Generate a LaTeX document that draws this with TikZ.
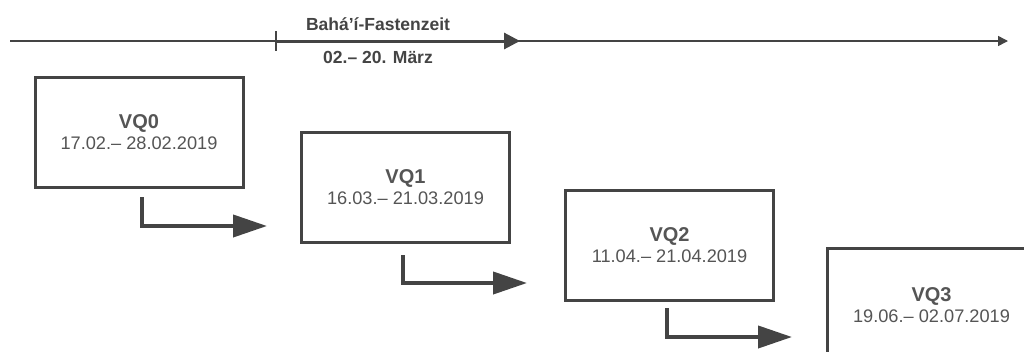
\documentclass[tikz,border=0pt]{standalone}
\usepackage{fontspec}
\setmainfont{Liberation Sans}
\usetikzlibrary{arrows.meta}
\definecolor{ink}{HTML}{444444}
\definecolor{txt}{HTML}{555555}
\tikzset{
  x=1pt, y=-1pt,
  vqbox/.style={draw=ink, line width=3pt, minimum width=208pt, minimum height=110pt,
    inner sep=0pt, align=center, text=txt, font=\fontsize{18.2}{21}\selectfont},
  elbow/.style={draw=ink, line width=4pt, -{Triangle[length=34pt,width=22pt]}},
  thinline/.style={draw=ink, line width=1.5pt},
  lbl/.style={text=ink, font=\bfseries\fontsize{17.5}{20}\selectfont, inner sep=0pt}
}
\newcommand{\vq}[2]{{\bfseries\fontsize{20}{21}\selectfont #1}\\#2}
\begin{document}
\begin{tikzpicture}
\clip (0,0) rectangle (1024,351);
\fill[white] (0,0) rectangle (1024,351);
% timeline
\coordinate (tl0) at (10,41);
\coordinate (tl1) at (1008,41);
\coordinate (fa) at (276,41);
\coordinate (fb) at (520,41);
\coordinate (fat) at (276,31);
\coordinate (fab) at (276,51);
\draw[thinline, -{Triangle[length=10pt,width=10pt]}] (tl0) -- (tl1);
\draw[thinline] (fat) -- (fab);
\draw[draw=ink, line width=3pt, -{Triangle[length=16pt,width=16pt]}] (fa) -- (fb);
\node[lbl] (fz) at (378,24) {Bahá’í-Fastenzeit};
\node[lbl] (mz) at (378,57) {02.– 20. März};
% boxes
\node[vqbox] (q0) at (139,132) {\vq{VQ0}{17.02.– 28.02.2019}};
\node[vqbox] (q1) at (405.5,187.5) {\vq{VQ1}{16.03.– 21.03.2019}};
\node[vqbox] (q2) at (669.5,245) {\vq{VQ2}{11.04.– 21.04.2019}};
\node[vqbox, minimum height=114pt] (q3) at (931.5,305) {\vq{VQ3}{19.06.– 02.07.2019}};
% elbow arrows
\coordinate (s0) at (142,197);
\coordinate (c0) at (142,226);
\coordinate (e0) at (267,226);
\coordinate (s1) at (403,255);
\coordinate (c1) at (403,283);
\coordinate (e1) at (527,283);
\coordinate (s2) at (667,308);
\coordinate (c2) at (667,337);
\coordinate (e2) at (792,337);
\draw[elbow] (s0) -- (c0) -- (e0);
\draw[elbow] (s1) -- (c1) -- (e1);
\draw[elbow] (s2) -- (c2) -- (e2);
\end{tikzpicture}
\end{document}
